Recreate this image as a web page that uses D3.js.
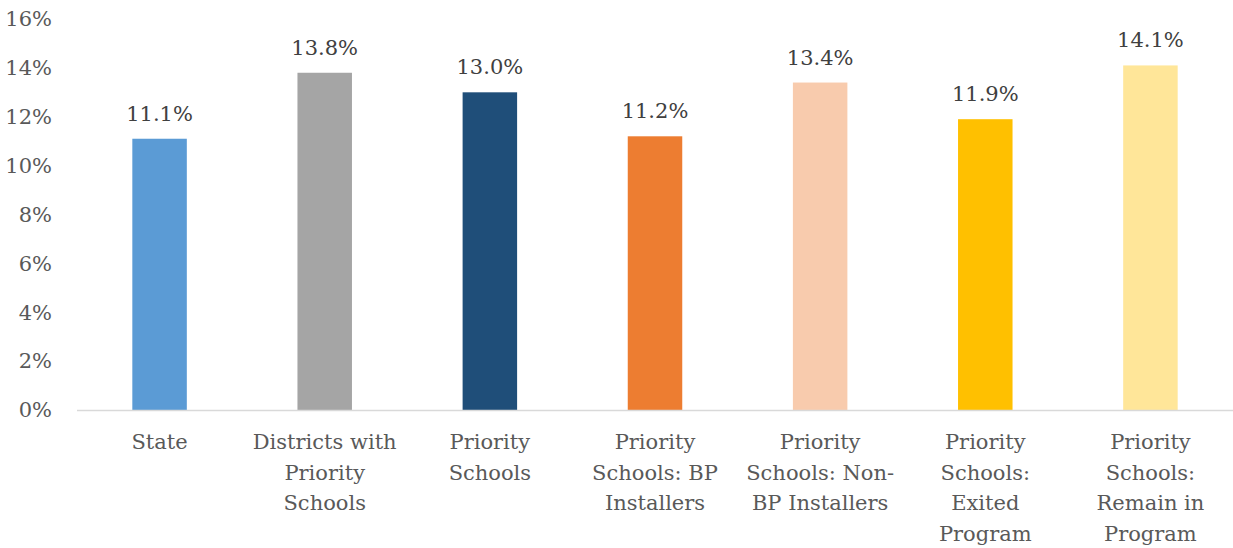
<!DOCTYPE html>
<html>
<head>
<meta charset="utf-8">
<script src="https://cdn.jsdelivr.net/npm/d3@7"></script>
<style>
  html, body { margin: 0; padding: 0; background: #fff; }
</style>
</head>
<body>
<svg id="chart" width="1233" height="548"></svg>
<script>
const categories = [
  ["State"],
  ["Districts with", "Priority", "Schools"],
  ["Priority", "Schools"],
  ["Priority", "Schools: BP", "Installers"],
  ["Priority", "Schools: Non-", "BP Installers"],
  ["Priority", "Schools:", "Exited", "Program"],
  ["Priority", "Schools:", "Remain in", "Program"]
];
const values = [11.1, 13.8, 13.0, 11.2, 13.4, 11.9, 14.1];
const colors = ["#5B9BD5", "#A5A5A5", "#1F4E79", "#ED7D31", "#F8CBAD", "#FFC000", "#FFE699"];
const yTicks = [0, 2, 4, 6, 8, 10, 12, 14, 16];

const fontFamily = "'DejaVu Serif', serif";
const fontSize = "21px";
const textColor = "#595959";

const svg = d3.select("#chart")
  .style("font-family", fontFamily);
const plotLeft = 77, plotRight = 1233, plotTop = 19, plotBottom = 410;

const x = d3.scaleBand()
  .domain(d3.range(values.length))
  .range([plotLeft, plotRight])
  .paddingInner(0.67)
  .paddingOuter(0.335);

const y = d3.scaleLinear().domain([0, 16]).range([plotBottom, plotTop]);

// y-axis tick labels (no axis line, no gridlines)
svg.append("g")
  .selectAll("text")
  .data(yTicks)
  .join("text")
  .attr("x", 52)
  .attr("y", d => y(d))
  .attr("dy", "0.35em")
  .attr("text-anchor", "end")
  .attr("fill", textColor)
  .style("font-family", fontFamily)
  .style("font-size", fontSize)
  .text(d => d + "%");

// bars
svg.append("g")
  .selectAll("rect")
  .data(values)
  .join("rect")
  .attr("x", (d, i) => x(i))
  .attr("y", d => y(d))
  .attr("width", x.bandwidth())
  .attr("height", d => y(0) - y(d))
  .attr("fill", (d, i) => colors[i]);

// value labels
svg.append("g")
  .selectAll("text")
  .data(values)
  .join("text")
  .attr("x", (d, i) => x(i) + x.bandwidth() / 2)
  .attr("y", d => y(d) - 18)
  .attr("text-anchor", "middle")
  .attr("fill", "#404040")
  .style("font-family", fontFamily)
  .style("font-size", fontSize)
  .text(d => d.toFixed(1) + "%");

// baseline
svg.append("line")
  .attr("x1", plotLeft).attr("x2", plotRight)
  .attr("y1", y(0) + 0.5).attr("y2", y(0) + 0.5)
  .attr("stroke", "#D9D9D9")
  .attr("stroke-width", 1.5);

// category labels
const cat = svg.append("g")
  .selectAll("text")
  .data(categories)
  .join("text")
  .attr("x", (d, i) => x(i) + x.bandwidth() / 2)
  .attr("y", 449)
  .attr("text-anchor", "middle")
  .attr("fill", textColor)
  .style("font-family", fontFamily)
  .style("font-size", fontSize);

cat.selectAll("tspan")
  .data(d => d)
  .join("tspan")
  .attr("x", function () { return d3.select(this.parentNode).attr("x"); })
  .attr("dy", (d, j) => j === 0 ? 0 : 30.5)
  .text(d => d);
</script>
</body>
</html>
